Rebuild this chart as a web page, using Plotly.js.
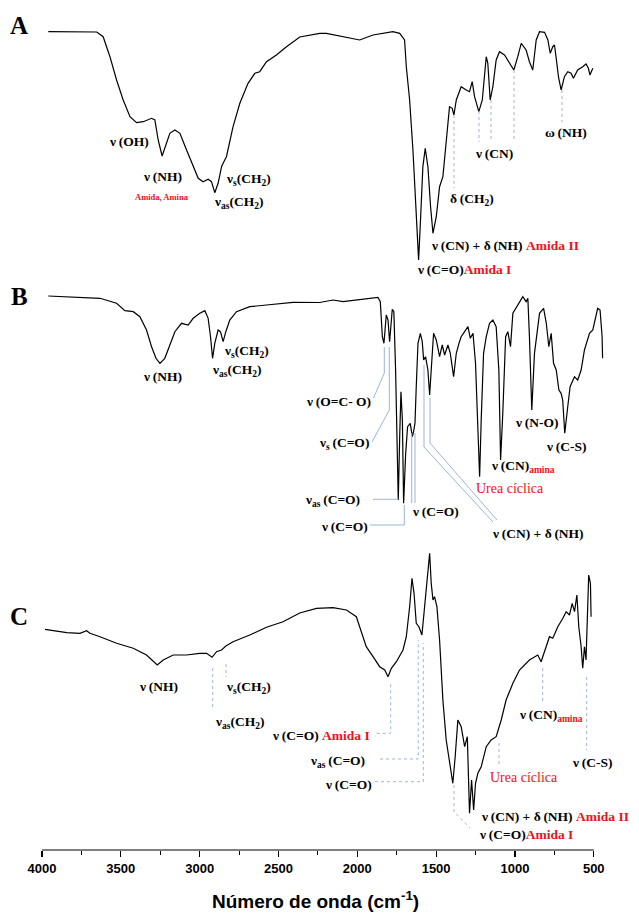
<!DOCTYPE html>
<html><head><meta charset="utf-8">
<script src="https://cdn.plot.ly/plotly-3.0.1.min.js"></script>
<style>html,body{margin:0;padding:0;background:#fff}#chart{width:639px;height:915px}</style>
</head><body><div id="chart"></div>
<script>
// Spectrum A
const wnA = [3960,3653,3612,3569,3527,3485,3442,3400,3358,3305,3284,3263,3238,3216,3189,3157,3125,3083,3041,3009,2978,2946,2925,2904,2883,2861,2851,2830,2788,2745,2693,2650,2619,2576,2513,2449,2365,2238,2196,2048,1985,1900,1774,1731,1700,1689,1668,1647,1626,1611,1598,1584,1569,1552,1535,1520,1499,1478,1457,1436,1415,1398,1387,1372,1341,1309,1288,1271,1256,1229,1207,1182,1172,1157,1140,1119,1098,1066,1034,1007,982,960,929,908,887,865,844,812,791,776,760,749,734,724,707,686,665,644,629,602,570,549,534,524,506];
const tA = [258.3,258,253.3,233.3,210,190,173.3,167.3,168.3,171.7,170,150,134,143.3,156.7,160,156.7,140,123.3,111.7,108.3,110.7,108.3,97.3,106.7,123.3,126.7,133.3,163.3,186.7,206.7,216.7,218.3,228.3,235,243.3,253,256.7,256.7,251.7,250,255,258.3,256.7,250,223.3,190,140,73.3,30,73.3,123.3,141.7,123.3,83.3,56.7,73.3,103.3,113.3,150,183.3,181.7,175,190,203.3,200,198.3,208.3,193.3,178.3,190,233.3,226.7,190,203.3,230,238.3,235,226.7,220,233.3,246.7,240,228.3,220,250,258.3,257.7,250,236.7,243.3,245,226.7,213.3,200,213.3,218.3,216.7,211.7,220,223.3,226,221.7,215,221.7];
// Spectrum B
const wnB = [3960,3738,3632,3527,3474,3421,3379,3337,3305,3277,3252,3221,3189,3157,3115,3073,3041,2999,2967,2946,2931,2918,2904,2883,2868,2851,2834,2809,2766,2682,2576,2408,2238,2154,2090,1985,1869,1854,1841,1831,1816,1805,1795,1778,1768,1757,1749,1740,1731,1723,1714,1706,1693,1681,1664,1651,1643,1634,1626,1615,1600,1588,1579,1567,1552,1541,1531,1516,1499,1478,1461,1446,1425,1410,1389,1372,1355,1341,1319,1298,1283,1266,1250,1235,1224,1214,1199,1182,1161,1140,1119,1102,1091,1077,1059,1045,1028,1013,982,950,929,918,908,893,876,861,844,818,801,785,770,755,738,721,707,697,684,665,650,622,602,580,559,527,506,475,460,447,444];
const tB = [264,262.7,261.7,256.7,249.3,248.3,243.3,230,213.3,201.7,196.7,201.7,215,228.3,236.7,235,241.7,246.7,249.3,241.7,223.3,201.7,216.7,230,228.3,218.3,228.3,240,248.3,253.3,255,257.7,257.5,260,258.3,260.7,262.7,258.3,223.3,216.7,245,240,218.3,250.7,248.3,190,123.3,60,123.3,168.3,140,56.7,106.7,133.3,136.7,123.3,128.3,136.7,173.3,216.7,226.7,218.3,200,203.3,190,165,190,226.7,220,203.3,215,205,215,206.7,183.3,206.7,216.7,223.3,228.3,233.3,221.7,226.7,196.7,140,83.3,140,206.7,223.3,236.7,240,233.3,190,100,146.7,223.3,228.3,213.3,246.7,255,263.3,258.3,261.7,223.3,150,206.7,223.3,246.7,251.7,236.7,213.3,226.7,196.7,190,170,166.7,160,126.7,153.3,173.3,183.3,180,190,210,226.7,230,251.7,250,223.3,201.7];
// Spectrum C
const wnC = [3981,3843,3759,3717,3696,3632,3527,3421,3337,3295,3269,3231,3168,3083,2999,2956,2921,2893,2861,2834,2788,2682,2576,2471,2365,2259,2154,2069,2006,1964,1943,1900,1858,1826,1805,1784,1752,1710,1689,1668,1653,1640,1626,1609,1590,1573,1556,1541,1531,1520,1510,1495,1478,1457,1436,1415,1394,1379,1362,1341,1319,1302,1288,1275,1262,1250,1235,1214,1182,1151,1119,1087,1056,1013,971,908,855,834,801,781,760,728,696,675,654,637,622,607,595,580,570,559,549,538,532,521,517];
const tC = [220.7,217.3,216.7,219.3,216.7,213.3,206.7,201.7,195,188.3,185,190,195,195,196.7,196.7,192.7,198.3,200,204,208.3,215,222.7,228.3,237,241.7,242.3,240,233.3,213.3,203.3,193.3,183.3,180,173.3,181.7,188.3,200,213.3,243.3,271.7,256.7,226.7,223.3,215,243.3,270,296.7,266.7,250,253.3,243.3,210,150,110,86.7,66.7,93.3,130,123.3,103.3,113.3,36.7,70,40,66.7,76.7,83.3,103.3,110,113.3,130,150,166.7,180,190,195,188.3,203.3,213.3,211.7,223.3,231.7,238.3,235,246.7,238.3,255,223.3,203.3,181.7,203.3,190,243.3,275,266.7,233.3];

const tickVals = [4000,3500,3000,2500,2000,1500,1000,500];
const tickText = ['4000','3500','3000','2500','2000','1500','1000','500'];
const minorVals = [3750,3250,2750,2250,1750,1250,750];
const xTitle = 'Número de onda (cm<sup>-1</sup>)';

// layout geometry (pixels)
const W = 639, H = 915, ML = 42, MR = 35, MT = 5, MB = 65;
const PW = W - ML - MR, PH = H - MT - MB, BOTTOM = H - MB;
const px = x => (x - ML) / PW;
const py = y => (BOTTOM - y) / PH;

const RED = '#e8141b';
const BLUE = '#9db5d9';
const red = s => `<span style="color:${RED}">${s}</span>`;
const S = '\u2009';
const nu = 'ν' + S, de = 'δ' + S, om = 'ω' + S;

const labels = [
  // panel A
  [129,142, nu+'(OH)'],
  [162,176, nu+'(NH)'],
  [162,197,'Amida, Amina',{size:8.5,color:RED}],
  [248,179,'ν<sub>s</sub>(CH<sub>2</sub>)'],
  [238,202,'ν<sub>as</sub>(CH<sub>2</sub>)'],
  [472,199, de+'(CH<sub>2</sub>)'],
  [494,153, nu+'(CN)'],
  [566,133, om+'(NH)'],
  [429,245, nu+'(CN) + '+de+'(NH) ' + red('Amida II'),{anchor:'left'}],
  [415,269, nu+'(C=O)' + red('Amida I'),{anchor:'left'}],
  // panel B
  [162,376, nu+'(NH)'],
  [246,351,'ν<sub>s</sub>(CH<sub>2</sub>)'],
  [236,370,'ν<sub>as</sub>(CH<sub>2</sub>)'],
  [338,401, nu+'(O=C- O)'],
  [344,443,'ν<sub>s</sub>'+S+'(C=O)'],
  [332,500,'ν<sub>as</sub>'+S+'(C=O)'],
  [344,526, nu+'(C=O)'],
  [435,511, nu+'(C=O)'],
  [538,533, nu+'(CN) + '+de+'(NH)'],
  [510,488,'Urea cíclica',{color:RED,bold:false,size:14}],
  [523,466, nu+'(CN)<sub>' + red('amina') + '</sub>'],
  [536,422, nu+'(N-O)'],
  [566,447, nu+'(C-S)'],
  // panel C
  [158,686, nu+'(NH)'],
  [248,687,'ν<sub>s</sub>(CH<sub>2</sub>)'],
  [239,722,'ν<sub>as</sub>(CH<sub>2</sub>)'],
  [270,735, nu+'(C=O) ' + red('Amida I'),{anchor:'left'}],
  [337,761,'ν<sub>as</sub>'+S+'(C=O)'],
  [348,784, nu+'(C=O)'],
  [479,816, nu+'(CN) + '+de+'(NH) ' + red('Amida II'),{anchor:'left'}],
  [477,834, nu+'(C=O)' + red('Amida I'),{anchor:'left'}],
  [524,777,'Urea cíclica',{color:RED,bold:false,size:14}],
  [551,715, nu+'(CN)<sub>' + red('amina') + '</sub>'],
  [592,762, nu+'(C-S)']
];

const leaders = [
  // A (dotted)
  [[[454,115],[454,188]],'dot'],
  [[[479,111],[479,142]],'dot'],
  [[[491,100],[491,142]],'dot'],
  [[[514,70],[514,142]],'dot'],
  [[[562,90],[562,122]],'dot'],
  // B (solid)
  [[[384.3,347],[384.3,373],[373.5,398]],'solid'],
  [[[389.3,347],[389.3,410],[372,442]],'solid'],
  [[[373,499.3],[398.3,499.3]],'solid'],
  [[[404.3,505],[404.3,525],[370,525]],'solid'],
  [[[411.7,433],[411.7,503]],'solid'],
  [[[415,433],[415,503]],'solid'],
  [[[424,365],[424,447],[493,522]],'solid'],
  [[[430,398],[430,443],[497,520]],'solid'],
  // C (dotted)
  [[[212.7,668],[212.7,708]],'dot'],
  [[[226,664],[226,677]],'dot'],
  [[[376.7,733.3],[390.7,733.3],[390.7,683]],'dot'],
  [[[380,759],[418.3,759],[418.3,640]],'dot'],
  [[[375,781.7],[423.3,781.7],[423.3,643]],'dot'],
  [[[454,785],[454,811.7],[470,828]],'dot'],
  [[[499,743],[499,765]],'dot'],
  [[[542.7,668],[542.7,703]],'dot'],
  [[[586.7,677],[586.7,750]],'dot']
];

const serif = 'Liberation Serif, Times New Roman, serif';
const sans = 'Liberation Sans, Arial, sans-serif';
const annotations = labels.map(([x,y,t,o]) => {
  o = o || {};
  const bold = o.bold === undefined ? true : o.bold;
  return {
    xref:'paper', yref:'paper', x:px(x), y:py(y), text: bold ? '<b>'+t+'</b>' : t,
    showarrow:false, xanchor:o.anchor || 'center', yanchor:'middle',
    font:{family:serif, size:o.size || 13.5, color:o.color || '#000'}
  };
});
[['A',19,25],['B',19,296],['C',19,616]].forEach(([t,x,y]) => annotations.push({
  xref:'paper', yref:'paper', x:px(x), y:py(y), text:'<b>'+t+'</b>', showarrow:false,
  xanchor:'center', yanchor:'middle', font:{family:serif, size:25, color:'#000'}
}));
annotations.push({
  xref:'paper', yref:'paper', x:px(315), y:py(900), text:'<b>'+xTitle+'</b>', showarrow:false,
  xanchor:'center', yanchor:'middle', font:{family:sans, size:19, color:'#000'}
});

const shapes = leaders.map(([pts,dash]) => ({
  type:'path', xref:'paper', yref:'paper',
  path: pts.map((p,i) => (i ? 'L' : 'M') + px(p[0]) + ',' + py(p[1])).join(' '),
  line:{color:BLUE, width:1, dash:dash}
}));
shapes.push({type:'line', xref:'x', yref:'paper', x0:4000, x1:500, y0:0, y1:0, line:{color:'#000', width:1.2}});

const lineStyle = {color:'#000', width:1.2};
const traces = [
  {x:wnA, y:tA, yaxis:'y', type:'scatter', mode:'lines', line:lineStyle},
  {x:wnB, y:tB, yaxis:'y2', type:'scatter', mode:'lines', line:lineStyle},
  {x:wnC, y:tC, yaxis:'y3', type:'scatter', mode:'lines', line:lineStyle}
];

const hidden = {visible:false, fixedrange:true};
const layout = {
  width:W, height:H, margin:{l:ML, r:MR, t:MT, b:MB},
  paper_bgcolor:'#fff', plot_bgcolor:'rgba(0,0,0,0)', showlegend:false,
  xaxis:{range:[4000,435], anchor:'y3', showline:false, showgrid:false, zeroline:false,
    tickmode:'array', tickvals:tickVals, ticktext:tickText.map(t => '<b>'+t+'</b>'), ticks:'outside', ticklen:6, tickwidth:1.2, tickcolor:'#000',
    tickfont:{family:sans, size:13, color:'#000'},
    minor:{tickmode:'array', tickvals:minorVals, ticks:'outside', ticklen:4, tickwidth:1, tickcolor:'#000', showgrid:false}},
  yaxis:Object.assign({domain:[py(290), py(12)], range:[0,278]}, hidden),
  yaxis2:Object.assign({domain:[py(560), py(280)], range:[0,280]}, hidden),
  yaxis3:Object.assign({domain:[0, py(545)], range:[0,305]}, hidden),
  annotations:annotations, shapes:shapes
};
Plotly.newPlot('chart', traces, layout, {staticPlot:true, displayModeBar:false});
</script></body></html>
